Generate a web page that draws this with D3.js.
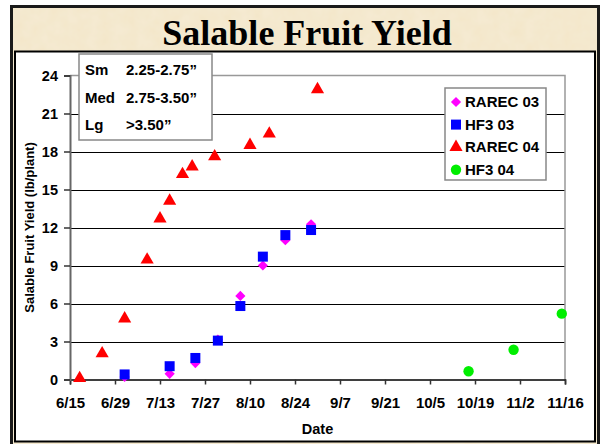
<!DOCTYPE html>
<html>
<head>
<meta charset="utf-8">
<script src="https://cdn.jsdelivr.net/npm/d3@7"></script>
<style>
  html, body { margin: 0; padding: 0; background: #fff; }
  svg { display: block; }
</style>
</head>
<body>
<div id="container"></div>
<script>
// 数据
let tickLabels = ["6/15", "6/29", "7/13", "7/27", "8/10", "8/24", "9/7", "9/21", "10/5", "10/19", "11/2", "11/16"];
let yTicks = [0, 3, 6, 9, 12, 15, 18, 21, 24];

let rarec03Dates = ["7/2", "7/16", "7/24", "7/31", "8/7", "8/14", "8/21", "8/29"];
let rarec03Values = [0.2, 0.45, 1.3, 3.15, 6.6, 9.0, 11.0, 12.25];

let hf303Dates = ["7/2", "7/16", "7/24", "7/31", "8/7", "8/14", "8/21", "8/29"];
let hf303Values = [0.4, 1.05, 1.7, 3.07, 5.8, 9.7, 11.4, 11.8];

let rarec04Dates = ["6/18", "6/25", "7/2", "7/9", "7/13", "7/16", "7/20", "7/23", "7/30", "8/10", "8/16", "8/31"];
let rarec04Values = [0.1, 2.05, 4.8, 9.45, 12.7, 14.1, 16.2, 16.8, 17.6, 18.5, 19.4, 22.9];

let hf304Dates = ["10/17", "10/31", "11/15"];
let hf304Values = [0.65, 2.35, 5.2];

let sizeClasses = ["Sm", "Med", "Lg"];
let sizeRanges = ["2.25-2.75\u201d", "2.75-3.50\u201d", ">3.50\u201d"];

let width = 600;
let height = 444;
let fontFamily = "Arial, 'Liberation Sans', sans-serif";

function parseDate(s) {
  let p = s.split("/");
  return new Date(2004, +p[0] - 1, +p[1]);
}

function pairs(dates, values) {
  return dates.map((d, i) => ({ date: parseDate(d), value: values[i] }));
}

// 正菱形（旋转的正方形）
let squareDiamond = {
  draw: function (context, size) {
    let r = Math.sqrt(size) / Math.SQRT2;
    context.moveTo(0, -r);
    context.lineTo(r, 0);
    context.lineTo(0, r);
    context.lineTo(-r, 0);
    context.closePath();
  }
};

let series = [
  { name: "RAREC 03", color: "#ff00ff", shape: squareDiamond, size: 52, data: pairs(rarec03Dates, rarec03Values) },
  { name: "HF3 03", color: "#0000ff", shape: d3.symbolSquare, size: 100, data: pairs(hf303Dates, hf303Values) },
  { name: "RAREC 04", color: "#ff0000", shape: d3.symbolTriangle, size: 75, data: pairs(rarec04Dates, rarec04Values) },
  { name: "HF3 04", color: "#00ee00", shape: d3.symbolCircle, size: 85, data: pairs(hf304Dates, hf304Values) }
];

function drawChart() {
  let svg = d3.select("#container")
    .append("svg")
    .attr("width", width)
    .attr("height", height);

  // 羊皮纸背景
  let defs = svg.append("defs");
  let filter = defs.append("filter").attr("id", "paper")
    .attr("x", 0).attr("y", 0).attr("width", "100%").attr("height", "100%");
  filter.append("feTurbulence")
    .attr("type", "fractalNoise")
    .attr("baseFrequency", 0.08)
    .attr("numOctaves", 3)
    .attr("seed", 4)
    .attr("result", "noise");
  filter.append("feColorMatrix")
    .attr("in", "noise")
    .attr("type", "matrix")
    .attr("values", "0 0 0 0 0.93  0 0 0 0 0.86  0 0 0 0 0.72  0 0 0 0.55 0")
    .attr("result", "tint");
  filter.append("feComposite").attr("in", "tint").attr("in2", "SourceGraphic").attr("operator", "atop");

  svg.append("rect")
    .attr("x", 11.5).attr("y", 6.5)
    .attr("width", 587).attr("height", 450)
    .attr("fill", "#f3e6c8")
    .attr("stroke", "#1a1a1a")
    .attr("stroke-width", 3);
  svg.append("rect")
    .attr("x", 13).attr("y", 8)
    .attr("width", 584).attr("height", 446)
    .attr("fill", "#f3e6c8")
    .attr("filter", "url(#paper)");

  // 标题
  svg.append("text")
    .attr("x", 307).attr("y", 45)
    .attr("text-anchor", "middle")
    .attr("font-family", "'Liberation Serif', 'Times New Roman', serif")
    .attr("font-weight", "bold")
    .attr("font-size", 36)
    .attr("fill", "#000")
    .text("Salable Fruit Yield");

  // 白色图表区
  svg.append("rect")
    .attr("x", 15).attr("y", 51.5)
    .attr("width", 580).attr("height", 390)
    .attr("fill", "#fff")
    .attr("stroke", "#000")
    .attr("stroke-width", 2);

  let x = d3.scaleTime()
    .domain([parseDate(tickLabels[0]), parseDate(tickLabels[tickLabels.length - 1])])
    .range([70, 565]);
  let y = d3.scaleLinear().domain([0, 24]).range([379.5, 75.5]);

  let g = svg.append("g").attr("font-family", fontFamily);

  // 网格线
  g.selectAll("line.grid")
    .data(yTicks.filter(d => d > 0 && d < 24))
    .join("line")
    .attr("class", "grid")
    .attr("x1", x.range()[0]).attr("x2", x.range()[1])
    .attr("y1", d => Math.round(y(d)) + 0.5).attr("y2", d => Math.round(y(d)) + 0.5)
    .attr("stroke", "#000")
    .attr("stroke-width", 1);

  // 绘图区边框（上、右）
  g.append("path")
    .attr("d", `M${x.range()[0]},${y(24)}H${x.range()[1]}V${y(0)}`)
    .attr("fill", "none")
    .attr("stroke", "#999")
    .attr("stroke-width", 1.5);

  // x 轴
  let xAxis = d3.axisBottom(x)
    .tickValues(tickLabels.map(parseDate))
    .tickFormat((d, i) => tickLabels[i])
    .tickSize(5)
    .tickPadding(13);
  let gx = g.append("g")
    .attr("transform", `translate(0,${y(0)})`)
    .call(xAxis);
  gx.select(".domain").attr("stroke", "#000").attr("stroke-width", 1.5);
  gx.selectAll(".tick line").attr("stroke", "#333").attr("stroke-width", 1.5);
  gx.selectAll(".tick text")
    .attr("font-family", fontFamily)
    .attr("font-weight", "bold")
    .attr("font-size", 15)
    .attr("fill", "#000");

  // y 轴
  let yAxis = d3.axisLeft(y)
    .tickValues(yTicks)
    .tickFormat(d3.format("d"))
    .tickSize(6)
    .tickPadding(6);
  let gy = g.append("g")
    .attr("transform", `translate(${x.range()[0]},0)`)
    .call(yAxis);
  gy.select(".domain").attr("stroke", "#666").attr("stroke-width", 2);
  gy.selectAll(".tick line").attr("stroke", "#333").attr("stroke-width", 1.5);
  gy.selectAll(".tick text")
    .attr("font-family", fontFamily)
    .attr("font-weight", "bold")
    .attr("font-size", 14.5)
    .attr("fill", "#000");

  // 轴标题
  g.append("text")
    .attr("transform", `translate(34,${(y(0) + y(24)) / 2}) rotate(-90)`)
    .attr("text-anchor", "middle")
    .attr("font-weight", "bold")
    .attr("font-size", 13)
    .text("Salable Fruit Yield (lb/plant)");
  g.append("text")
    .attr("x", (x.range()[0] + x.range()[1]) / 2)
    .attr("y", 434)
    .attr("text-anchor", "middle")
    .attr("font-weight", "bold")
    .attr("font-size", 14.5)
    .text("Date");

  // 数据点
  series.forEach(function (s) {
    g.append("g")
      .selectAll("path")
      .data(s.data)
      .join("path")
      .attr("transform", d => `translate(${x(d.date)},${y(d.value)})`)
      .attr("d", d3.symbol().type(s.shape).size(s.size))
      .attr("fill", s.color);
  });

  // 尺寸说明框
  let sizeBox = g.append("g").attr("transform", "translate(79,54)");
  sizeBox.append("rect")
    .attr("width", 133).attr("height", 86)
    .attr("fill", "#fff")
    .attr("stroke", "#888")
    .attr("stroke-width", 1.5);
  sizeClasses.forEach(function (c, i) {
    sizeBox.append("text")
      .attr("x", 6).attr("y", 21 + i * 27.5)
      .attr("font-weight", "bold").attr("font-size", 15)
      .text(c);
    sizeBox.append("text")
      .attr("x", 47).attr("y", 21 + i * 27.5)
      .attr("font-weight", "bold").attr("font-size", 15)
      .text(sizeRanges[i]);
  });

  // 图例
  let legend = g.append("g").attr("transform", "translate(445,88)");
  legend.append("rect")
    .attr("width", 101).attr("height", 92)
    .attr("fill", "#fff")
    .attr("stroke", "#888")
    .attr("stroke-width", 1.5);
  series.forEach(function (s, i) {
    let row = legend.append("g").attr("transform", `translate(0,${14 + i * 22.6})`);
    row.append("path")
      .attr("transform", "translate(11,0)")
      .attr("d", d3.symbol().type(s.shape).size(s.size))
      .attr("fill", s.color);
    row.append("text")
      .attr("x", 20).attr("y", 5)
      .attr("font-weight", "bold").attr("font-size", 15)
      .text(s.name);
  });
}

drawChart();
</script>
</body>
</html>
